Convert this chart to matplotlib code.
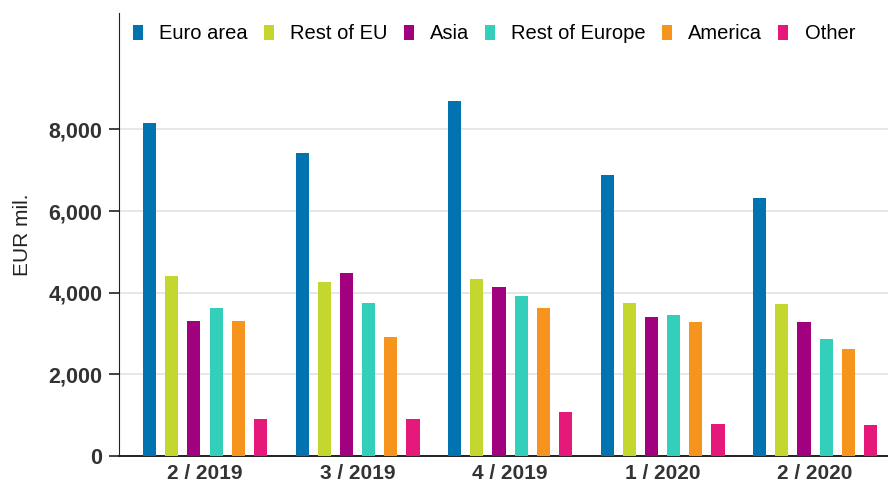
import numpy as np
import matplotlib.pyplot as plt
from matplotlib.ticker import FuncFormatter

plt.rcParams['font.family'] = ['Liberation Sans', 'DejaVu Sans']

quarters = ["2 / 2019", "3 / 2019", "4 / 2019", "1 / 2020", "2 / 2020"]
regions = ["Euro area", "Rest of EU", "Asia", "Rest of Europe", "America", "Other"]
euro_area = [8160, 7430, 8700, 6880, 6330]
rest_of_eu = [4420, 4260, 4340, 3755, 3720]
asia = [3310, 4470, 4130, 3395, 3280]
rest_of_europe = [3625, 3740, 3915, 3445, 2855]
america = [3310, 2905, 3620, 3280, 2625]
other = [900, 910, 1085, 785, 760]
colors = ["#0073b0", "#c3d72e", "#a1007f", "#34cfbb", "#f7941d", "#e5197a"]

series = [euro_area, rest_of_eu, asia, rest_of_europe, america, other]

fig = plt.figure(figsize=(8.88, 4.86), dpi=100)
ax = fig.add_axes([119 / 888, 30 / 486, 769 / 888, 443 / 486])

x = np.arange(len(quarters))
step = 0.1455
w = 0.086
for k, (vals, name, c) in enumerate(zip(series, regions, colors)):
    ax.bar(x + (k - 2.5) * step, vals, width=w, color=c, label=name, zorder=3)

ax.set_xlim(-0.564, 4.478)
ax.set_ylim(0, 10850)
ax.set_yticks([0, 2000, 4000, 6000, 8000])
ax.yaxis.set_major_formatter(FuncFormatter(lambda v, p: f"{int(v):,}"))
ax.set_xticks(x)
ax.set_xticklabels(quarters)
ax.grid(axis='y', color='#e3e3e3', linewidth=1.2, zorder=0)

for s in ['top', 'right']:
    ax.spines[s].set_visible(False)
ax.spines['left'].set_color('#222222')
ax.spines['bottom'].set_color('#222222')
ax.spines['bottom'].set_linewidth(1.4)
ax.tick_params(axis='y', length=7, width=1.2, colors='#222222', labelsize=15.5, pad=5)
ax.tick_params(axis='x', length=0, colors='#222222', labelsize=15, pad=6)
for t in ax.get_xticklabels() + ax.get_yticklabels():
    t.set_fontweight('bold')
    t.set_color('#333333')

ax.set_ylabel("EUR mil.", fontsize=15, color='#222222', labelpad=12)

ax.legend(loc='center left', bbox_to_anchor=(14 / 769, 0.9526), ncol=6, frameon=False,
          fontsize=14.5, handlelength=0.5, handleheight=0.75, handletextpad=0.8,
          columnspacing=0.8, borderaxespad=0, borderpad=0)

fig.savefig("out.png", dpi=100)
